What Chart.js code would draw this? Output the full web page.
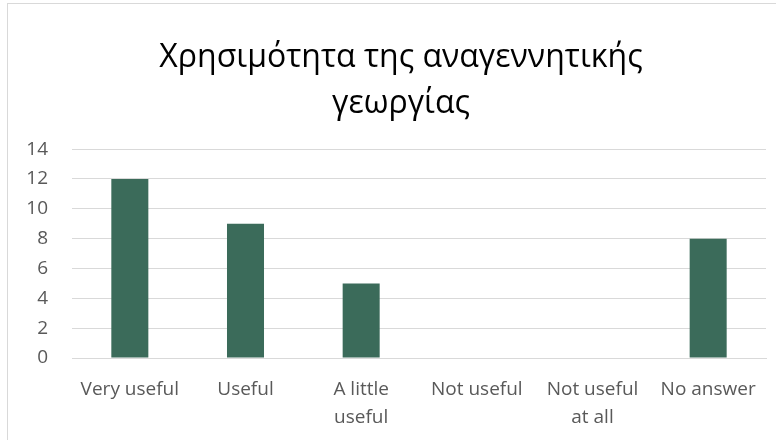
<!DOCTYPE html>
<html>
<head>
<meta charset="utf-8">
<script src="https://cdn.jsdelivr.net/npm/chart.js@4"></script>
<style>
  body { margin: 0; background: #fff; overflow: hidden; }
  /* solo se ven los bordes izq. y superior en el original (recortado) */
  #wrap { position: absolute; left: 7px; top: 3px; width: 768px; height: 436px; border-left: 1px solid #d9d9d9; border-top: 1px solid #d9d9d9; }
</style>
</head>
<body>
<div id="wrap"><canvas id="chart" width="768" height="436"></canvas></div>
<script>
// κατηγορίες και τιμές
const categories = ["Very useful", "Useful", ["A little", "useful"], "Not useful", ["Not useful", "at all"], "No answer"];
const counts = [12, 9, 5, 0, 0, 8];
const titleLines = ["Χρησιμότητα της αναγεννητικής", "γεωργίας"];

const ctx = document.getElementById("chart");

new Chart(ctx, {
  type: "bar",
  data: {
    labels: categories,
    datasets: [{
      data: counts,
      backgroundColor: "#3b6b5a",
      barPercentage: 0.64,
      categoryPercentage: 0.5,
    }],
  },
  options: {
    responsive: false,
    animation: false,
    // el título está algo a la derecha del centro en el original
    layout: { padding: { left: 0, right: -18, top: 0, bottom: 0 } },
    plugins: {
      legend: { display: false },
      tooltip: { enabled: false },
      title: {
        display: true,
        text: titleLines,
        color: "#000",
        font: { family: "Open Sans", size: 32, weight: "normal", lineHeight: 1.44 },
        padding: { top: 31, bottom: 22 },
      },
    },
    scales: {
      y: {
        min: 0,
        max: 14,
        ticks: { stepSize: 2, color: "#595959", font: { family: "Open Sans", size: 19 }, padding: 24 },
        grid: { color: "#d9d9d9", drawTicks: false },
        border: { display: false },
        afterFit: (scale) => { scale.width = 64; },
      },
      // eje vacío a la derecha, solo reserva espacio
      yRight: {
        position: "right",
        min: 0,
        max: 14,
        ticks: { display: false },
        grid: { display: false, drawTicks: false },
        border: { display: false },
        afterFit: (scale) => { scale.width = 28; },
      },
      x: {
        ticks: { color: "#595959", font: { family: "Open Sans", size: 19, lineHeight: 1.45 }, padding: 18, maxRotation: 0, autoSkip: false },
        grid: { display: false, drawTicks: false },
        border: { color: "#d9d9d9" },
        afterFit: (scale) => { scale.height = 82; },
      },
    },
  },
});
</script>
</body>
</html>
